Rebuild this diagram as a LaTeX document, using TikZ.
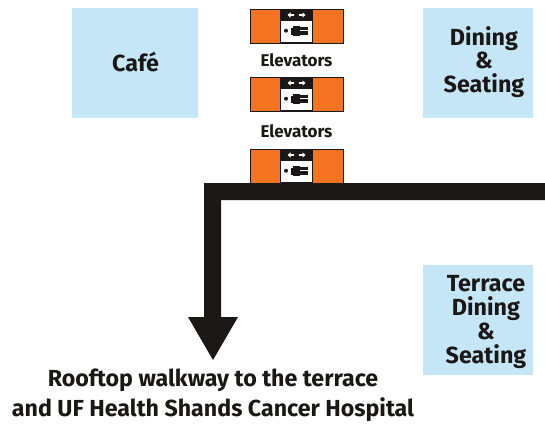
\documentclass[tikz,border=0pt]{standalone}
\usepackage{fontspec}
\setmainfont{Fira Sans}
\definecolor{ink}{HTML}{1A1716}
\definecolor{sky}{HTML}{C5E6F6}
\definecolor{sign}{HTML}{F47321}
\tikzset{
  x=1pt,y=-1pt,
  room/.style={fill=sky,draw=none,minimum width=#1,inner sep=0pt},
  roomtext/.style={inner sep=0pt,align=center,text=ink,font=\bfseries\fontsize{23.3}{23.7}\selectfont},
  elevlabel/.style={inner sep=0pt,align=center,text=ink,font=\bfseries\fontsize{17}{18}\selectfont},
  walk/.style={inner sep=0pt,align=center,text=ink,font=\bfseries\fontsize{23.2}{30}\selectfont},
  elevsign/.pic={
    \fill[sign] (0,0) rectangle (93,34);
    \draw[ink,line width=.7pt] (0,0) rectangle (93,34);
    \fill[ink] (30,0) rectangle (63,34);
    \fill[white] (31,12) rectangle (62,32.5);
    \fill[white] (37.5,6) -- (40.5,3.4) -- (40.5,5.2) -- (44,5.2) -- (44,6.8) -- (40.5,6.8) -- (40.5,8.6) -- cycle;
    \fill[white] (55.5,6) -- (52.5,3.4) -- (52.5,5.2) -- (49,5.2) -- (49,6.8) -- (52.5,6.8) -- (52.5,8.6) -- cycle;
    \fill[ink] (36,21.7) circle (2);
    \fill[ink] (41,18.5) rectangle (43.5,25.5);
    \fill[ink] (43,16.5) rectangle (50,27);
    \fill[ink] (50,17.6) rectangle (58,21.2);
    \fill[ink] (50,22.4) rectangle (58,26);
  }
}
\begin{document}
\begin{tikzpicture}
\useasboundingbox (0,0) rectangle (545,426);
\fill[white] (0,0) rectangle (545,426);
\node[room=126pt,minimum height=110pt] (cafe) at (135,63) {};
\node[roomtext] (cafet) at (135.5,62) {Caf\'e};
\node[room=110pt,minimum height=110pt] (dining) at (478,63) {};
\node[roomtext] (diningt) at (484,62) {Dining\\\&\\Seating};
\node[room=110pt,minimum height=110pt] (terrace) at (478,320) {};
\node[roomtext] (terracet) at (486,322) {Terrace\\Dining\\\&\\Seating};
\pic at (250,9) {elevsign};
\node[elevlabel] (e1) at (296.5,60) {Elevators};
\pic at (250,77) {elevsign};
\node[elevlabel] (e2) at (296.5,131) {Elevators};
\pic at (250,149) {elevsign};
\fill[ink] (545,183) -- (204,183) -- (204,317) -- (188,317) -- (213,360) -- (238,317) -- (221,317) -- (221,200) -- (545,200) -- cycle;
\node[walk] (w) at (213,395.5) {Rooftop walkway to the terrace\\and UF Health Shands Cancer Hospital};
\end{tikzpicture}
\end{document}
